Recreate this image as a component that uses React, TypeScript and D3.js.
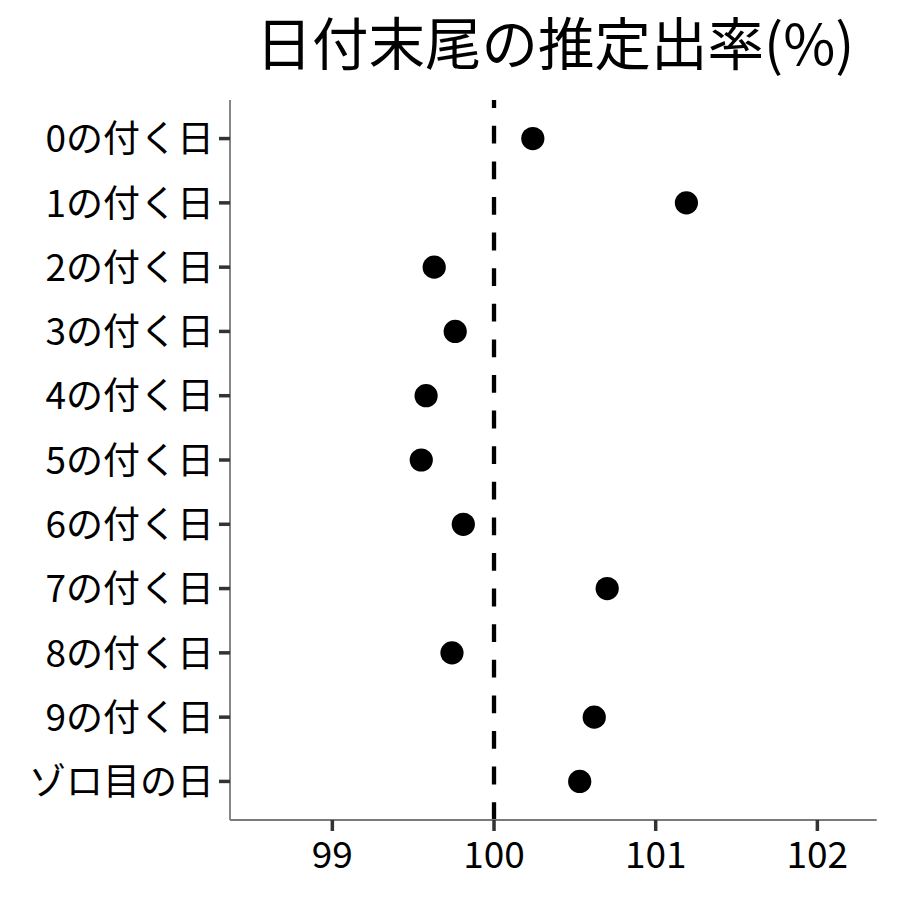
import React from 'react';
import * as d3 from 'd3';

// categories, top to bottom
const categories = [
  '0の付く日', '1の付く日', '2の付く日', '3の付く日', '4の付く日',
  '5の付く日', '6の付く日', '7の付く日', '8の付く日', '9の付く日', 'ゾロ目の日',
];
// estimated rate (%) per category
const rates = [100.24, 101.19, 99.63, 99.76, 99.58, 99.55, 99.81, 100.7, 99.74, 100.62, 100.53];
const xTicks = [99, 100, 101, 102];
const refValue = 100;
const title = '日付末尾の推定出率(%)';

const W = 900;
const H = 900;
const FONT = '"Noto Sans CJK JP", "Noto Sans", sans-serif';

export default function App() {
  const panel = { left: 230, right: 876.7, top: 100, bottom: 820 };

  const x = d3.scaleLinear().domain([98.367, 102.367]).range([panel.left, panel.right]);
  const y = d3.scalePoint<string>().domain(categories).range([panel.top, panel.bottom]).padding(0.6);

  const tickLen = 11;
  const axisFont = 37;

  return (
    <svg width={W} height={H} style={{ position: 'absolute', left: 0, top: 0, background: '#fff' }}
      fontFamily={FONT}>
      {/* title */}
      <text x={555} y={65} textAnchor="middle" fontSize={56.5} fill="#000">
        {title}
      </text>

      {/* reference line, dash pattern starts at the bottom */}
      <line x1={x(refValue)} x2={x(refValue)} y1={panel.bottom} y2={panel.top}
        stroke="#000" strokeWidth={4.3} strokeDasharray="17.8 17.8" />

      {/* points */}
      {categories.map((c, i) => (
        <circle key={c} cx={x(rates[i])} cy={y(c)} r={11.6} fill="#000" />
      ))}

      {/* axes lines */}
      <line x1={panel.left} x2={panel.left} y1={panel.top} y2={panel.bottom} stroke="#7a7a7a" strokeWidth={1.8} />
      <line x1={panel.left} x2={panel.right} y1={panel.bottom} y2={panel.bottom} stroke="#7a7a7a" strokeWidth={1.8} />

      {/* y axis */}
      {categories.map(c => (
        <g key={c}>
          <line x1={panel.left - tickLen} x2={panel.left} y1={y(c)} y2={y(c)} stroke="#333" strokeWidth={3.5} />
          <text x={214} y={y(c)} dy="0.37em" textAnchor="end" fontSize={axisFont} fill="#000">{c}</text>
        </g>
      ))}

      {/* x axis */}
      {xTicks.map(t => (
        <g key={t}>
          <line x1={x(t)} x2={x(t)} y1={panel.bottom} y2={panel.bottom + tickLen} stroke="#333" strokeWidth={3.5} />
          <text x={x(t)} y={panel.bottom + 48} textAnchor="middle" fontSize={axisFont} fill="#000">{t}</text>
        </g>
      ))}
    </svg>
  );
}
